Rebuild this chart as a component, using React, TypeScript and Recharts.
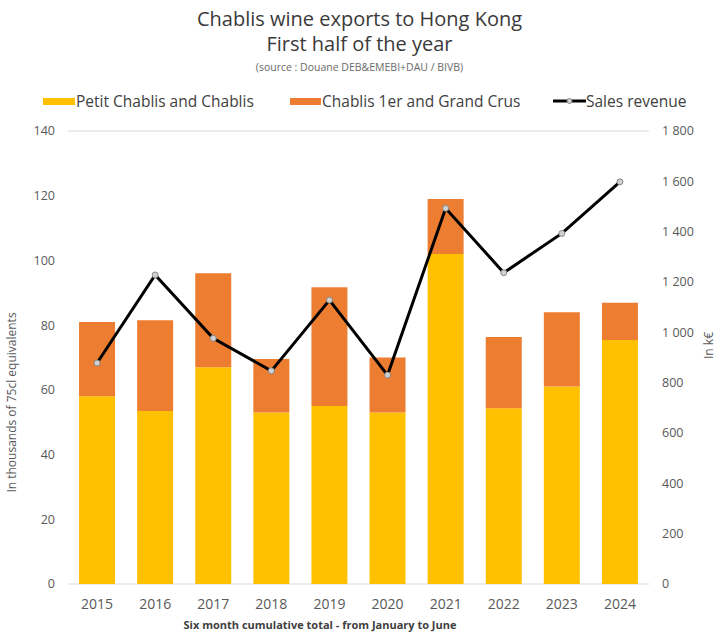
import React from "react";
import {
  ComposedChart,
  Bar,
  Line,
  XAxis,
  YAxis,
  CartesianGrid,
  Legend,
} from "recharts";

const YEARS = ["2015", "2016", "2017", "2018", "2019", "2020", "2021", "2022", "2023", "2024"];
const PETIT_CHABLIS = [58, 53.5, 67, 53, 55, 53, 102, 54.3, 61, 75.4];
const PREMIER_GRAND = [23, 28, 29, 16.5, 36.7, 17, 17, 22, 23, 11.5];
const REVENUE = [878, 1228, 976, 847, 1128, 830, 1493, 1237, 1393, 1598];

const LEFT_TICKS = [0, 20, 40, 60, 80, 100, 120, 140];
const RIGHT_TICKS = [0, 200, 400, 600, 800, 1000, 1200, 1400, 1600, 1800];

const FONT = "'Open Sans', Lato, sans-serif";
const YELLOW = "#FFC000";
const ORANGE = "#ED7D31";

const data = YEARS.map((year, i) => ({
  year,
  petit: PETIT_CHABLIS[i],
  crus: PREMIER_GRAND[i],
  revenue: REVENUE[i],
}));

const fmtThousands = (v: number) => String(v).replace(/\B(?=(\d{3})+(?!\d))/g, " ");

function LegendContent() {
  const item = (swatch: React.ReactNode, label: string, left: number) => (
    <div
      style={{
        position: "absolute",
        left,
        top: 2,
        display: "flex",
        alignItems: "center",
        fontFamily: FONT,
        fontSize: 15.5,
        color: "#404040",
        whiteSpace: "nowrap",
      }}
    >
      {swatch}
      <span>{label}</span>
    </div>
  );
  return (
    <div style={{ position: "relative", width: 719, height: 43 }}>
      {item(<div style={{ width: 32, height: 7, background: YELLOW, marginRight: 1 }} />, "Petit Chablis and Chablis", 43)}
      {item(<div style={{ width: 31, height: 7, background: ORANGE, marginRight: 1 }} />, "Chablis 1er and Grand Crus", 290)}
      {item(
        <svg width={33} height={10}>
          <line x1={0} y1={5} x2={33} y2={5} stroke="#000" strokeWidth={3} />
          <circle cx={16.5} cy={5} r={2.5} fill="#d0d0d0" stroke="#888" strokeWidth={1} />
        </svg>,
        "Sales revenue",
        553
      )}
    </div>
  );
}

export default function App() {
  return (
    <div style={{ position: "absolute", left: 0, top: 0, width: 719, height: 633, background: "#fff" }}>
      <div
        style={{
          position: "absolute",
          left: 0,
          top: 6,
          width: 719,
          textAlign: "center",
          fontFamily: FONT,
          color: "#3a3a3a",
        }}
      >
        <div style={{ fontSize: 20, lineHeight: "26px" }}>Chablis wine exports to Hong Kong</div>
        <div style={{ fontSize: 20, lineHeight: "24px" }}>First half of the year</div>
        <div style={{ fontSize: 10.5, lineHeight: "13px", marginTop: 5, color: "#6a6a6a" }}>
          (source : Douane DEB&amp;EMEBI+DAU / BIVB)
        </div>
      </div>
      <ComposedChart
        width={719}
        height={633}
        data={data}
        margin={{ top: 88, right: 0, bottom: 19, left: 0 }}
        barCategoryGap="19%"
      >
        <CartesianGrid vertical={false} stroke="#d9d9d9" />
        <XAxis
          dataKey="year"
          axisLine={false}
          tickLine={false}
          height={30}
          tick={{ fill: "#595959", fontSize: 14, fontFamily: FONT }}
          tickMargin={9}
        />
        <YAxis
          yAxisId="left"
          domain={[0, 140]}
          ticks={LEFT_TICKS}
          width={68}
          axisLine={false}
          tickLine={false}
          tick={{ fill: "#595959", fontSize: 12.5, fontFamily: FONT }}
          tickMargin={7}
          label={{
            value: "In thousands of 75cl equivalents",
            angle: -90,
            position: "insideLeft",
            offset: 12,
            dy: 45,
            style: { fill: "#595959", fontSize: 12, fontFamily: FONT, textAnchor: "middle" },
          }}
        />
        <YAxis
          yAxisId="right"
          orientation="right"
          domain={[0, 1800]}
          ticks={RIGHT_TICKS}
          width={70}
          axisLine={false}
          tickLine={false}
          tickFormatter={fmtThousands}
          tick={{ fill: "#595959", fontSize: 12.5, fontFamily: FONT }}
          tickMargin={7}
          label={{
            value: "In k€",
            angle: -90,
            position: "insideRight",
            offset: 10,
            dy: -12,
            style: { fill: "#595959", fontSize: 12, fontFamily: FONT, textAnchor: "middle" },
          }}
        />
        <Legend verticalAlign="top" align="left" content={<LegendContent />} wrapperStyle={{ left: 0, width: 719, height: 43 }} />
        <Bar yAxisId="left" dataKey="petit" name="Petit Chablis and Chablis" stackId="a" fill={YELLOW} isAnimationActive={false} />
        <Bar yAxisId="left" dataKey="crus" name="Chablis 1er and Grand Crus" stackId="a" fill={ORANGE} isAnimationActive={false} />
        <Line
          yAxisId="right"
          dataKey="revenue"
          name="Sales revenue"
          stroke="#000"
          strokeWidth={3}
          dot={{ r: 3, fill: "#d0d0d0", stroke: "#888", strokeWidth: 1 }}
          isAnimationActive={false}
        />
      </ComposedChart>
      <div
        style={{
          position: "absolute",
          left: 0,
          top: 617,
          width: 640,
          textAlign: "center",
          fontFamily: FONT,
          fontSize: 11,
          fontWeight: 700,
          color: "#404040",
        }}
      >
        Six month cumulative total - from January to June
      </div>
    </div>
  );
}
